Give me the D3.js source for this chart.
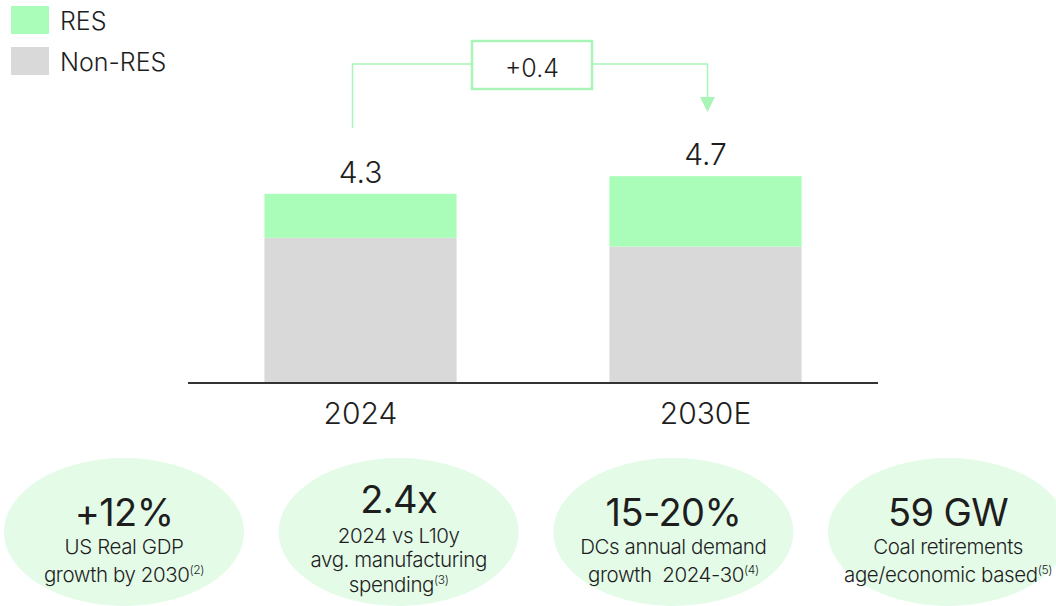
<!DOCTYPE html>
<html lang="en">
  <head>
    <meta charset="utf-8">
    <title>RES vs Non-RES demand</title>
    <style>
      body { margin: 0; background: #fff; }
      svg { display: block; font-family: Inter, "Noto Sans", sans-serif; }
      text { white-space: pre; }
    </style>
  </head>
  <body>
    <div class="chart"></div>
    <script src="https://cdn.jsdelivr.net/npm/d3@7/dist/d3.min.js"></script>
    <script type="text/javascript">
      // data
      var categories = ["2024", "2030E"];
      var nonRes = [3.3, 3.1];
      var res = [1.0, 1.6];
      var totals = ["4.3", "4.7"];
      var seriesNames = ["RES", "Non-RES"];
      var deltaLabel = "+0.4";

      var kpiValues = ["+12%", "2.4x", "15-20%", "59 GW"];
      var kpiLines = [
        ["US Real GDP", "growth by 2030"],
        ["2024 vs L10y", "avg. manufacturing", "spending"],
        ["DCs annual demand", "growth  2024-30"],
        ["Coal retirements", "age/economic based"]
      ];
      var kpiNotes = ["(2)", "(3)", "(4)", "(5)"];

      var green = "#a9fdb9", grey = "#d9d9d9", ink = "#1e1e1e",
          kpiFill = "#e4fbe8", arrowGreen = "#a9f5b8";

      var width = 1056, height = 606;

      var svg = d3.select(".chart")
        .append("svg")
          .attr("width", width)
          .attr("height", height);

      var x = d3.scaleBand()
          .domain(categories)
          .range([188, 878])
          .paddingInner(0.443)
          .paddingOuter(0.2215);

      var y = d3.scaleLinear()
          .domain([0, 5])
          .range([383, 163]);

      var rows = categories.map(function(c, i) {
        return {cat: c, "Non-RES": nonRes[i], "RES": res[i], total: totals[i]};
      });

      var stack = d3.stack().keys(["Non-RES", "RES"]);
      var color = d3.scaleOrdinal().domain(seriesNames).range([green, grey]);

      // bars
      svg.append("g").selectAll("g")
        .data(stack(rows))
        .enter().append("g")
          .attr("fill", function(d) { return color(d.key); })
        .selectAll("rect")
        .data(function(d) { return d; })
        .enter().append("rect")
          .attr("x", function(d) { return x(d.data.cat); })
          .attr("width", x.bandwidth())
          .attr("y", function(d) { return y(d[1]); })
          .attr("height", function(d) { return y(d[0]) - y(d[1]); });

      // baseline
      svg.append("line")
        .attr("x1", 188).attr("x2", 878)
        .attr("y1", y(0)).attr("y2", y(0))
        .attr("stroke", "#333").attr("stroke-width", 2);

      // totals
      svg.append("g").selectAll("text")
        .data(rows)
        .enter().append("text")
          .attr("x", function(d) { return x(d.cat) + x.bandwidth() / 2; })
          .attr("y", function(d) { return y(d["Non-RES"] + d.RES) - 11; })
          .attr("text-anchor", "middle")
          .attr("font-size", 30)
          .attr("font-weight", 300)
          .attr("fill", ink)
          .text(function(d) { return d.total; });

      // category labels
      svg.append("g").selectAll("text")
        .data(categories)
        .enter().append("text")
          .attr("x", function(d) { return x(d) + x.bandwidth() / 2; })
          .attr("y", 424)
          .attr("text-anchor", "middle")
          .attr("font-size", 30)
          .attr("font-weight", 300)
          .attr("fill", ink)
          .text(function(d) { return d; });

      // legend
      var legend = svg.append("g").selectAll("g")
        .data(seriesNames)
        .enter().append("g")
          .attr("transform", function(d, i) { return "translate(11," + (6 + i * 41) + ")"; });
      legend.append("rect")
        .attr("width", 38).attr("height", 28)
        .attr("fill", function(d) { return color(d); });
      legend.append("text")
        .attr("x", 49).attr("y", 24)
        .attr("font-size", 25)
        .attr("font-weight", 300)
        .attr("fill", ink)
        .text(function(d) { return d; });

      // change bracket
      var xl = x(categories[0]) + x.bandwidth() / 2 - 8,
          xr = x(categories[1]) + x.bandwidth() / 2 + 2,
          yTop = 64, boxL = 472, boxR = 592;
      var br = svg.append("g")
        .attr("fill", "none")
        .attr("stroke", arrowGreen)
        .attr("stroke-width", 1.5);
      br.append("path")
        .attr("d", "M" + xl + "," + 128 + "V" + yTop + "H" + boxL);
      br.append("path")
        .attr("d", "M" + boxR + "," + yTop + "H" + xr + "V" + 98);
      svg.append("path")
        .attr("d", "M" + (xr - 7.5) + ",97L" + (xr + 7.5) + ",97L" + xr + ",112Z")
        .attr("fill", arrowGreen);
      svg.append("rect")
        .attr("x", boxL).attr("y", 41)
        .attr("width", boxR - boxL).attr("height", 48)
        .attr("fill", "#fff")
        .attr("stroke", arrowGreen)
        .attr("stroke-width", 2.5);
      svg.append("text")
        .attr("x", (boxL + boxR) / 2).attr("y", 77)
        .attr("text-anchor", "middle")
        .attr("font-size", 25)
        .attr("font-weight", 300)
        .attr("fill", ink)
        .text(deltaLabel);

      // KPI bubbles
      var kx = d3.scalePoint()
          .domain(d3.range(kpiValues.length))
          .range([124, 948]);

      var kpi = svg.append("g").selectAll("g")
        .data(kpiValues)
        .enter().append("g")
          .attr("transform", function(d, i) { return "translate(" + kx(i) + ",532)"; });

      kpi.append("ellipse")
        .attr("rx", 120).attr("ry", 74)
        .attr("fill", kpiFill);

      kpi.append("text")
        .attr("text-anchor", "middle")
        .attr("y", function(d, i) { return i == 1 ? -19 : -6; })
        .attr("font-size", 38)
        .attr("font-weight", 400)
        .attr("letter-spacing", -0.6)
        .attr("fill", ink)
        .text(function(d) { return d; });

      kpi.each(function(d, i) {
        var g = d3.select(this);
        var lines = kpiLines[i];
        var step = lines.length == 3 ? 24.5 : 27.5;
        var y0 = lines.length == 3 ? 10.5 : 22;
        lines.forEach(function(line, j) {
          var t = g.append("text")
            .attr("text-anchor", "middle")
            .attr("y", y0 + j * step)
            .attr("font-size", 20.5)
            .attr("font-weight", 300)
            .attr("letter-spacing", -0.4)
            .attr("fill", ink);
          t.append("tspan").text(line);
          if (j == lines.length - 1) {
            t.append("tspan")
              .attr("font-size", 12)
              .attr("dy", -8)
              .text(kpiNotes[i]);
          }
        });
      });
    </script>
  </body>
</html>
